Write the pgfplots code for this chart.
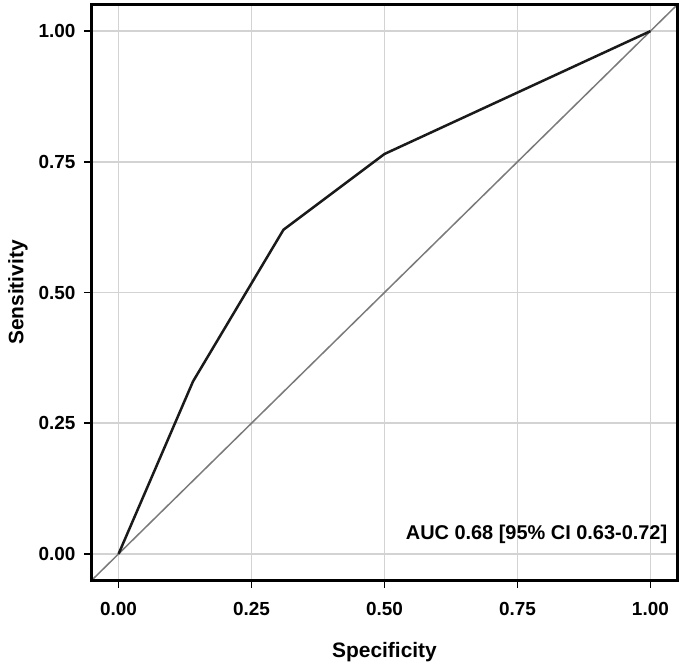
\documentclass[border=0pt]{standalone}
\usepackage{fontspec}
\setmainfont{Liberation Sans}
\usepackage{pgfplots}
\pgfplotsset{compat=1.18}
\definecolor{gridc}{HTML}{D3D3D3}
\definecolor{diagc}{HTML}{7A7A7A}
\definecolor{rocc}{HTML}{1A1A1A}
\begin{document}
\begin{tikzpicture}
\begin{axis}[
  scale only axis,
  width=585bp, height=575bp,
  xmin=-0.05, xmax=1.05, ymin=-0.05, ymax=1.05,
  xtick={0,0.25,0.5,0.75,1}, ytick={0,0.25,0.5,0.75,1},
  xticklabels={0.00,0.25,0.50,0.75,1.00},
  yticklabels={0.00,0.25,0.50,0.75,1.00},
  /pgf/number format/assume math mode=true,
  tick align=outside, tick pos=left,
  major tick length=8bp,
  every tick/.style={black, line width=1.5bp},
  grid=major,
  major grid style={gridc, line width=1.6bp},
  axis line style={black, line width=2bp},
  ticklabel style={font=\fontsize{19}{19}\selectfont\bfseries},
  xticklabel style={yshift=-11bp},
  yticklabel style={xshift=-5bp},
  label style={font=\fontsize{21}{21}\selectfont\bfseries},
  xlabel={Specificity}, ylabel={Sensitivity},
  xlabel style={at={(axis description cs:0.5,-0.1252)}, anchor=center},
  ylabel style={at={(axis description cs:-0.1265,0.5)}, anchor=center},
  clip=true,
]
\addplot[diagc, line width=1.5bp] coordinates {(-0.05,-0.05) (1.05,1.05)};
\addplot[rocc, line width=2.5bp, line join=round] coordinates {
  (0,0) (0.14,0.33) (0.31,0.62) (0.50,0.765) (1,1)};
\node[anchor=east, font=\fontsize{20}{20}\selectfont\bfseries, inner sep=0pt]
  at (axis cs:1.032,0.038) {AUC 0.68 [95\% CI 0.63-0.72]};
\end{axis}
\draw[black, line width=2.5bp] (-0.5bp,-0.5bp) rectangle (585.5bp,575.5bp);
\pgfresetboundingbox
\path[use as bounding box] (-92bp,-87bp) rectangle (590bp,580bp);
\end{tikzpicture}
\end{document}
